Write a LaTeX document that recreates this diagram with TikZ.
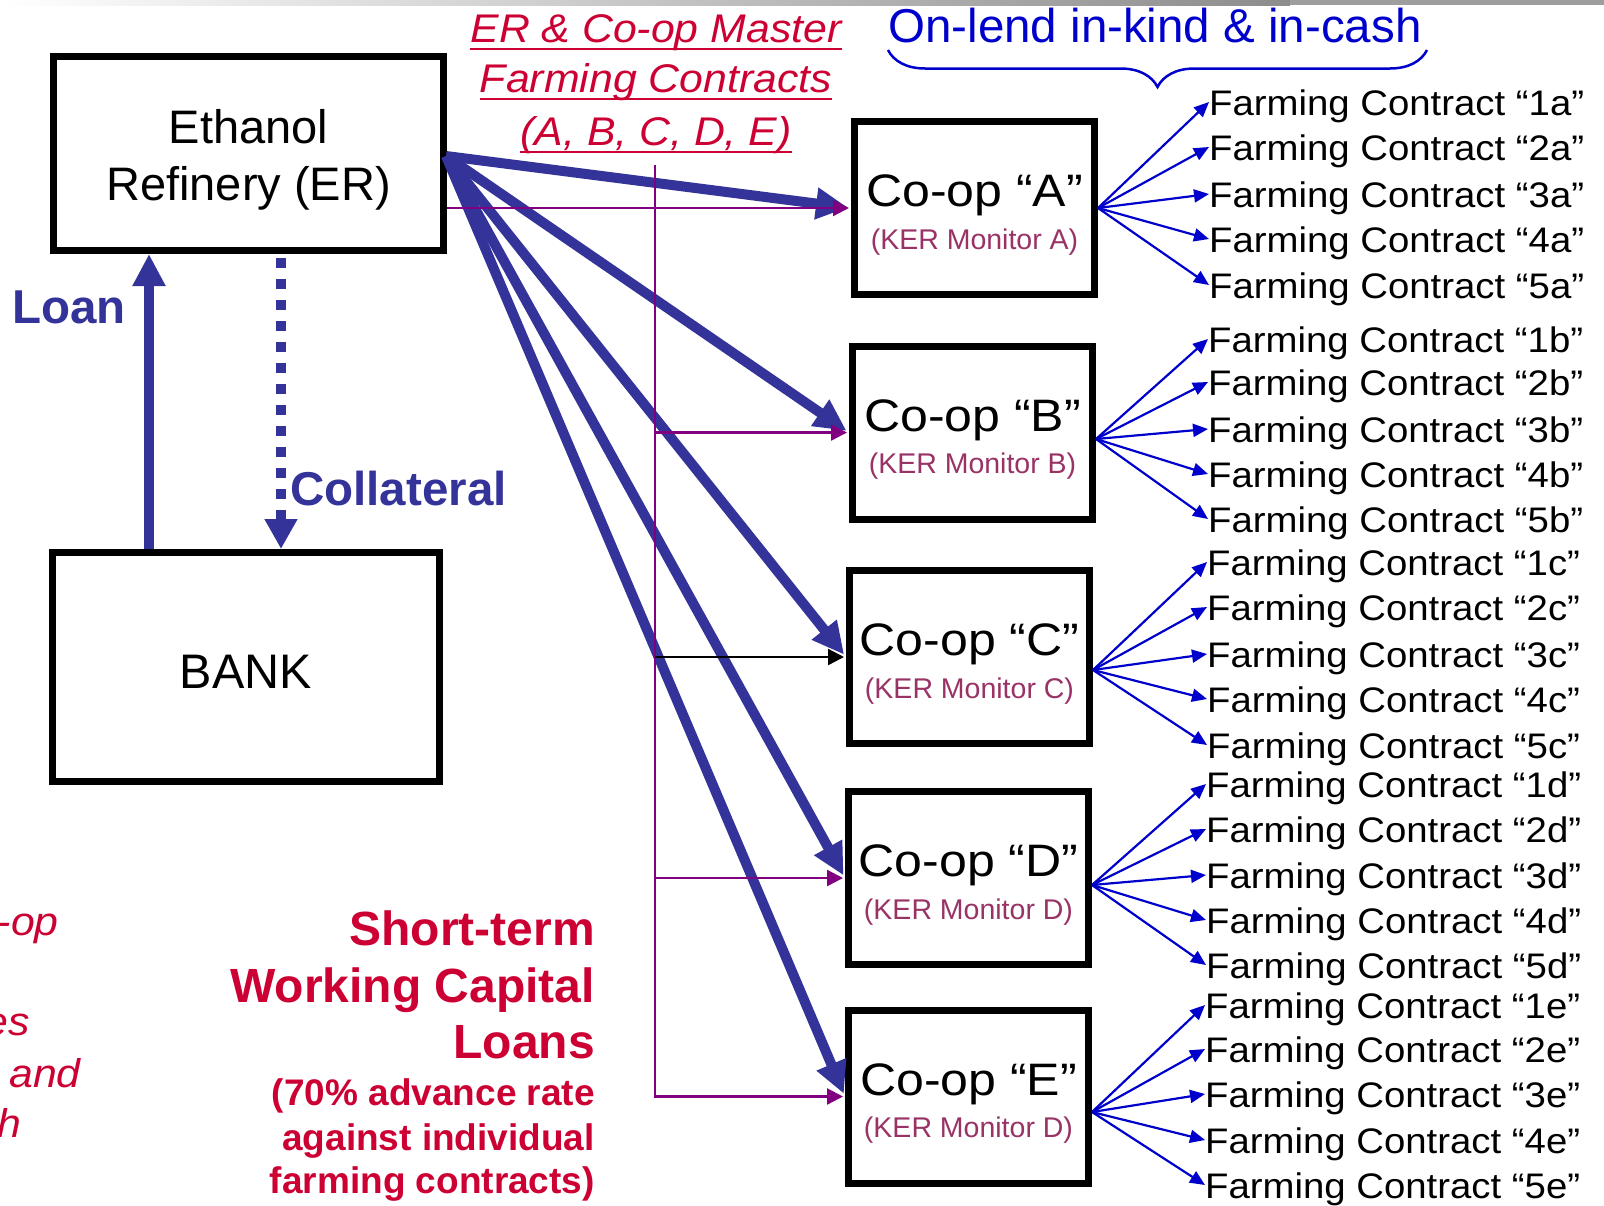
\documentclass[tikz,border=0pt]{standalone}
\usepackage{fontspec}
\setmainfont{Liberation Sans}
\newfontfamily\fcfont[FakeStretch=1.08]{Liberation Sans}
\newfontfamily\coopfont[FakeStretch=1.1]{Liberation Sans}
\newfontfamily\ttlfont[FakeStretch=1.07]{Liberation Sans}
\usetikzlibrary{arrows.meta,decorations.pathreplacing,calc}
\definecolor{navy}{HTML}{333399}
\definecolor{crim}{HTML}{CC0033}
\definecolor{purp}{HTML}{800080}
\definecolor{kerc}{HTML}{993366}
\definecolor{fcblue}{HTML}{0000CC}
\newcommand\myul[1]{\setbox0\hbox{#1}\rlap{\rule[-8bp]{\wd0}{2.5bp}}\box0}
\newcommand\fcgroup[4]{%
  \coordinate (o#1) at ($(coop#1.east)+(0,#2)$);
  \foreach \i/\b in {#4} {
    \node[fc, anchor=base west] (fc\i#1) at (#3,\b) {Farming Contract “\i#1”};
    \draw[fcarrow] (o#1) -- ($(fc\i#1.base west)+(0,-13)$);
  }
}
\begin{document}
\begin{tikzpicture}[x=1bp,y=-1bp,
  box/.style={draw=black,line width=7bp,inner sep=0pt,minimum width=240bp,minimum height=173bp},
  bigarrow/.style={draw=navy,line width=10bp,-{Triangle[length=32bp,width=30bp]},shorten >=3bp},
  purpline/.style={draw=purp,line width=2.3bp,-{Triangle[length=16bp,width=16bp]},shorten >=2bp},
  blkline/.style={draw=black,line width=2.3bp,-{Triangle[length=16bp,width=16bp]},shorten >=2bp},
  fcarrow/.style={draw=fcblue,line width=2.2bp,-{Triangle[length=15bp,width=13bp]}},
  fc/.style={inner sep=0pt,font=\fcfont\fontsize{35.5bp}{42bp}\selectfont},
  cooptxt/.style={inner sep=0pt,anchor=base,font=\coopfont\fontsize{45.5bp}{54bp}\selectfont},
  kertxt/.style={inner sep=0pt,anchor=base,text=kerc,font=\fontsize{28.5bp}{34bp}\selectfont},
  bigtxt/.style={inner sep=0pt,anchor=base,font=\fontsize{47bp}{56bp}\selectfont},
  ttl/.style={inner sep=0pt,anchor=base,text=crim,font=\ttlfont\itshape\fontsize{40bp}{48bp}\selectfont},
  redbig/.style={inner sep=0pt,anchor=base east,text=crim,font=\bfseries\fontsize{48bp}{56bp}\selectfont},
  redsmall/.style={inner sep=0pt,anchor=base east,text=crim,font=\bfseries\fontsize{37bp}{44bp}\selectfont},
  navytxt/.style={inner sep=0pt,anchor=base west,text=navy,font=\bfseries\fontsize{47.5bp}{56bp}\selectfont},
]
\clip (0,0) rectangle (1604,1205);
\fill[white] (0,0) rectangle (1604,1205);
\shade[left color=white,right color=black!45] (0,0) rectangle (1290,5);
\fill[black!38] (1290,0) rectangle (1604,5);

% main boxes
\node[box,minimum width=390bp,minimum height=194bp] (er) at (248.5,153.5) {};
\node[bigtxt] (ert1) at ($(er.center)+(0,-10.5)$) {Ethanol};
\node[bigtxt] (ert2) at ($(er.center)+(0,46.5)$) {Refinery (ER)};
\node[box,minimum width=387bp,minimum height=229bp,text height=42bp,text depth=0pt,font=\fontsize{48.5bp}{56bp}\selectfont] (bank) at (246,667) {BANK};

% co-op boxes
\node[box] (coopa) at (974.5,208) {};
\node[box] (coopb) at (972.5,432.5) {};
\node[box] (coopc) at (969.5,657) {};
\node[box] (coopd) at (968.5,878) {};
\node[box] (coope) at (968.5,1096.5) {};
\foreach \n/\L/\M in {a/A/A,b/B/B,c/C/C,d/D/D,e/E/D}{
  \node[cooptxt] (coopt\n) at ($(coop\n.center)+(0,-1.5)$) {Co-op “\L”};
  \node[kertxt] (coopk\n) at ($(coop\n.center)+(0,41)$) {(KER Monitor \M)};
}

% loan / collateral
\coordinate (loanx) at (149,0);
\coordinate (colx) at (281,0);
\draw[navy,line width=10bp,-{Triangle[length=32bp,width=31bp]}] (bank.north -| loanx) -- (er.south -| loanx);
\draw[navy,line width=10bp,dash pattern=on 10bp off 11bp,shorten <=4bp,-{Triangle[length=30bp,width=31bp]}] (er.south -| colx) -- (bank.north -| colx);
\node[navytxt] (loan) at (12,323) {Loan};
\node[navytxt] (coll) at (290,505) {Collateral};

% thick arrows ER -> co-ops
\coordinate (fan) at ($(er.east)+(-1,2.5)$);
\foreach \n in {a,b,c,d,e} \draw[bigarrow] (fan) -- (coop\n.west);

% purple / black lines
\coordinate (vtop) at (655,165);
\draw[purpline] (er.east |- coopa.west) -- (coopa.west);
\draw[purpline] (vtop) -- (vtop |- coope.west) -- (coope.west);
\draw[purpline] (vtop |- coopb.west) -- (coopb.west);
\draw[blkline] (vtop |- coopc.west) -- (coopc.west);
\draw[purpline] (vtop |- coopd.west) -- (coopd.west);

% title
\node[ttl] (t1) at (656,42) {\myul{ER \& Co-op Master}};
\node[ttl] (t2) at (656,92) {\myul{Farming Contracts}};
\node[ttl] (t3) at (656,145) {\myul{(A, B, C, D, E)}};

% on-lend brace
\node[inner sep=0pt,anchor=base,text=fcblue,font=\fontsize{47.5bp}{56bp}\selectfont] (onlend) at (1155,42) {On-lend in-kind \& in-cash};
\coordinate (br1) at (888,50);
\coordinate (br2) at (1427,50);
\draw[fcblue,line width=2.5bp,decorate,decoration={brace,amplitude=37bp,mirror}] (br1) -- (br2);

% farming contracts
\fcgroup{a}{0}{1209}{1/115,2/160,3/207,4/252,5/298}
\fcgroup{b}{6.5}{1208}{1/352,2/395,3/442,4/487,5/532}
\fcgroup{c}{13}{1207}{1/575,2/620,3/667,4/712,5/758}
\fcgroup{d}{7}{1206}{1/797,2/842,3/888,4/933,5/978}
\fcgroup{e}{15.5}{1205}{1/1018,2/1062,3/1107,4/1153,5/1198}

% short-term loans text
\node[redbig] (s1) at (595,945) {Short-term};
\node[redbig] (s2) at (595,1002) {Working Capital};
\node[redbig] (s3) at (595,1058) {Loans};
\node[redsmall] (s4) at (595,1105) {(70\% advance rate};
\node[redsmall] (s5) at (595,1150) {against individual};
\node[redsmall] (s6) at (595,1193) {farming contracts)};

% cut-off italic text at left edge
\node[ttl,anchor=base east] (l1) at (59,935) {-op};
\node[ttl,anchor=base east] (l2) at (30,1035) {es};
\node[ttl,anchor=base east] (l3) at (81,1087) {and};
\node[ttl,anchor=base east] (l4) at (22,1137) {h};
\end{tikzpicture}
\end{document}
